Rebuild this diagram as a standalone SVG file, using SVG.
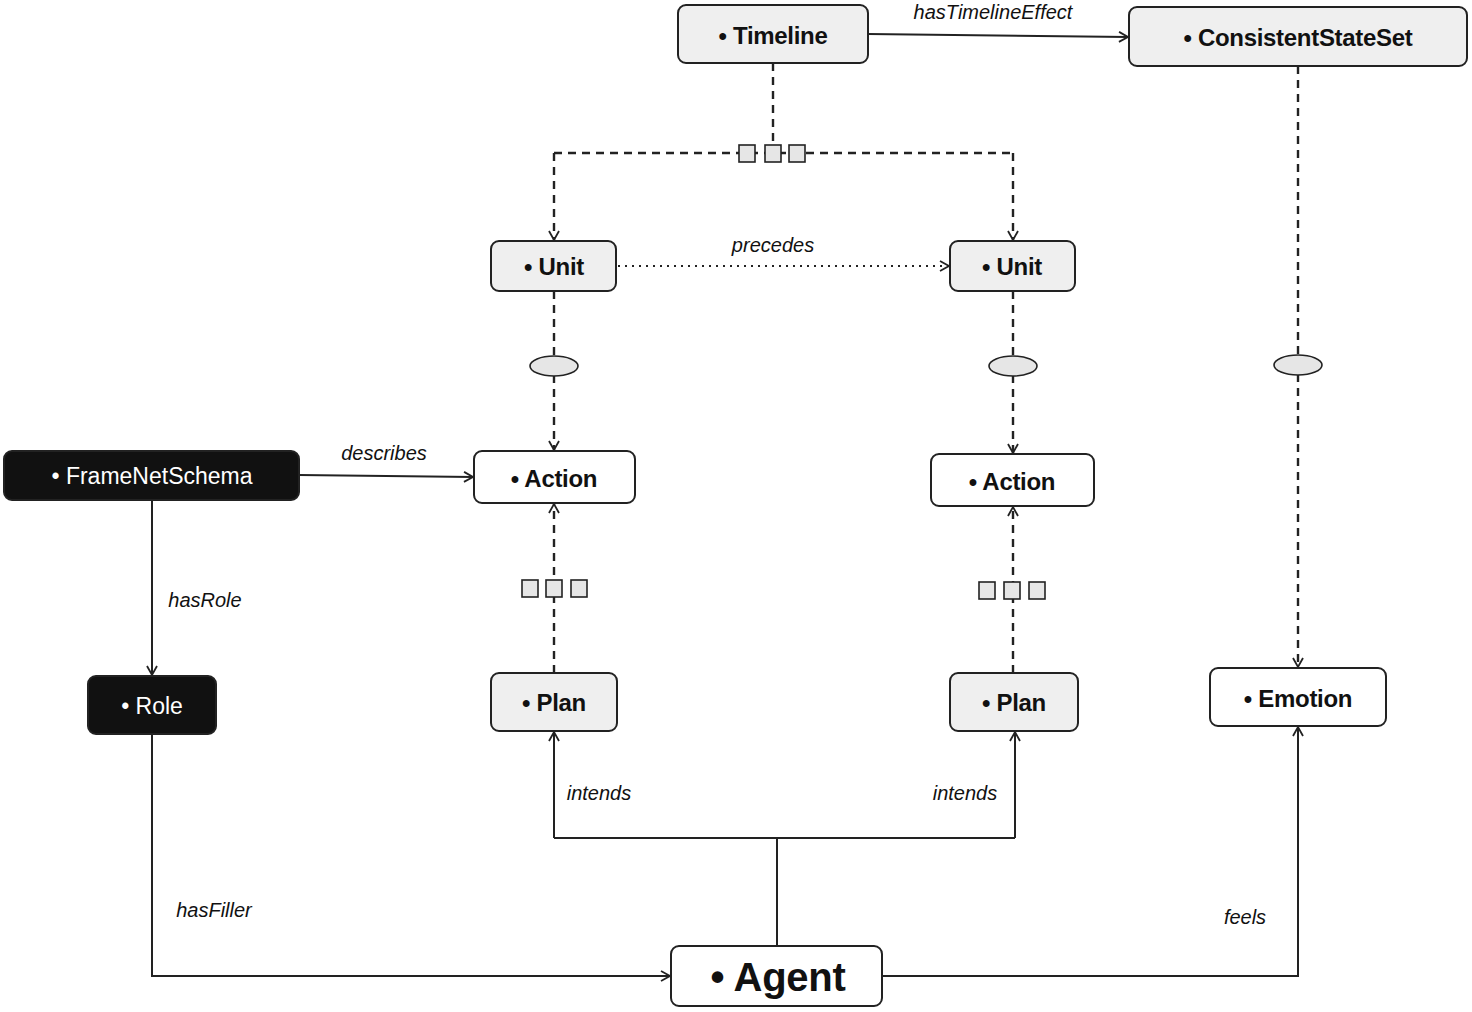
<svg xmlns="http://www.w3.org/2000/svg" width="1472" height="1012" viewBox="0 0 1472 1012">
<style>
.n{stroke:#222;stroke-width:2}
.g{fill:#efefef}
.w{fill:#fff}
.b{fill:#111}
.t{font-family:"Liberation Sans","DejaVu Sans",sans-serif;font-weight:bold;font-size:24px;fill:#111;text-anchor:middle;dominant-baseline:central;letter-spacing:-0.3px}
.tw{font-family:"Liberation Sans","DejaVu Sans",sans-serif;font-size:23px;fill:#fff;text-anchor:middle;dominant-baseline:central}
.l{font-family:"Liberation Sans","DejaVu Sans",sans-serif;font-style:italic;font-size:20px;fill:#111;text-anchor:middle;dominant-baseline:central}
.c{fill:none;stroke:#222;stroke-width:2}
.d{stroke-dasharray:8 6;stroke-width:2.4}
.o{stroke-dasharray:2 5}
.sq{fill:#e6e6e6;stroke:#222;stroke-width:1.6}
.el{fill:#e6e6e6;stroke:#222;stroke-width:1.6}
</style>
<defs>
<marker id="a" markerWidth="12" markerHeight="12" refX="10" refY="6" orient="auto" markerUnits="userSpaceOnUse">
<path d="M1,1 L10,6 L1,11" fill="none" stroke="#222" stroke-width="1.8"/>
</marker>
</defs>
<rect width="1472" height="1012" fill="#fff"/>
<g id="connectors">
<path class="c" d="M868,34 L1128,37" marker-end="url(#a)"/>
<path class="c d" d="M773,63 L773,153"/>
<path class="c d" d="M554,153 L1013,153"/>
<path class="c d" d="M554,153 L554,240" marker-end="url(#a)"/>
<path class="c d" d="M1013,153 L1013,240" marker-end="url(#a)"/>
<path class="c o" d="M618,266 L949,266" marker-end="url(#a)"/>
<path class="c d" d="M554,291 L554,450" marker-end="url(#a)"/>
<path class="c d" d="M1013,291 L1013,453" marker-end="url(#a)"/>
<path class="c d" d="M554,673 L554,504" marker-end="url(#a)"/>
<path class="c d" d="M1013,673 L1013,507" marker-end="url(#a)"/>
<path class="c d" d="M1298,66 L1298,667" marker-end="url(#a)"/>
<path class="c" d="M299,475 L473,477" marker-end="url(#a)"/>
<path class="c" d="M152,500 L152,675" marker-end="url(#a)"/>
<path class="c" d="M152,734 L152,976 L670,976" marker-end="url(#a)"/>
<path class="c" d="M777,946 L777,838"/>
<path class="c" d="M554,838 L1015,838"/>
<path class="c" d="M554,838 L554,732" marker-end="url(#a)"/>
<path class="c" d="M1015,838 L1015,732" marker-end="url(#a)"/>
<path class="c" d="M882,976 L1298,976 L1298,727" marker-end="url(#a)"/>
<rect class="sq" x="739" y="145" width="16" height="17"/>
<rect class="sq" x="765" y="145" width="16" height="17"/>
<rect class="sq" x="789" y="145" width="16" height="17"/>
<rect class="sq" x="522" y="580" width="16" height="17"/>
<rect class="sq" x="546" y="580" width="16" height="17"/>
<rect class="sq" x="571" y="580" width="16" height="17"/>
<rect class="sq" x="979" y="582" width="16" height="17"/>
<rect class="sq" x="1004" y="582" width="16" height="17"/>
<rect class="sq" x="1029" y="582" width="16" height="17"/>
<ellipse class="el" cx="554" cy="366" rx="24" ry="10"/>
<ellipse class="el" cx="1013" cy="366" rx="24" ry="10"/>
<ellipse class="el" cx="1298" cy="365" rx="24" ry="10"/>
<text class="l" x="993" y="12">hasTimelineEffect</text>
<text class="l" x="773" y="245">precedes</text>
<text class="l" x="384" y="453">describes</text>
<text class="l" x="205" y="600">hasRole</text>
<text class="l" x="214" y="910">hasFiller</text>
<text class="l" x="599" y="793">intends</text>
<text class="l" x="965" y="793">intends</text>
<text class="l" x="1245" y="917">feels</text>
</g>
<g id="timeline"><rect class="n g" x="678" y="5" width="190" height="58" rx="8"/><text class="t" x="773" y="35">• Timeline</text></g>
<g id="consistentstateset"><rect class="n g" x="1129" y="7" width="338" height="59" rx="8"/><text class="t" x="1298" y="37">• ConsistentStateSet</text></g>
<g id="unit1"><rect class="n g" x="491" y="241" width="125" height="50" rx="8"/><text class="t" x="554" y="266">• Unit</text></g>
<g id="unit2"><rect class="n g" x="950" y="241" width="125" height="50" rx="8"/><text class="t" x="1012" y="266">• Unit</text></g>
<g id="action1"><rect class="n w" x="474" y="451" width="161" height="52" rx="8"/><text class="t" x="554" y="478">• Action</text></g>
<g id="action2"><rect class="n w" x="931" y="454" width="163" height="52" rx="8"/><text class="t" x="1012" y="481">• Action</text></g>
<g id="plan1"><rect class="n g" x="491" y="673" width="126" height="58" rx="8"/><text class="t" x="554" y="702">• Plan</text></g>
<g id="plan2"><rect class="n g" x="950" y="673" width="128" height="58" rx="8"/><text class="t" x="1014" y="702">• Plan</text></g>
<g id="emotion"><rect class="n w" x="1210" y="668" width="176" height="58" rx="8"/><text class="t" x="1298" y="698">• Emotion</text></g>
<g id="framenetschema"><rect class="n b" x="4" y="451" width="295" height="49" rx="8"/><text class="tw" x="152" y="476">• FrameNetSchema</text></g>
<g id="role"><rect class="n b" x="88" y="676" width="128" height="58" rx="8"/><text class="tw" x="152" y="706">• Role</text></g>
<g id="agent"><rect class="n w" x="671" y="946" width="211" height="60" rx="8"/><text class="t" x="778" y="977" style="font-size:40px">• Agent</text></g>
</svg>
